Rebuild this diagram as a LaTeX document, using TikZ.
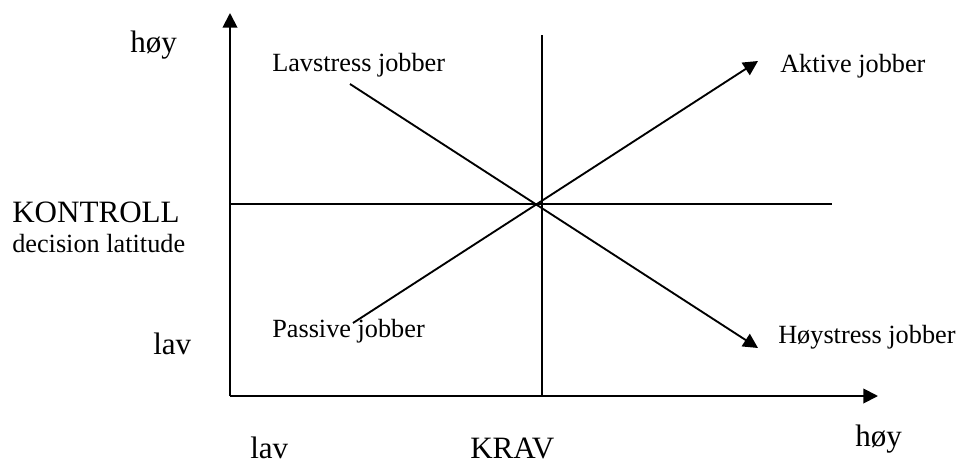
\documentclass[tikz,border=0pt]{standalone}
\usepackage{fontspec}
\setmainfont{Liberation Serif}
\usetikzlibrary{arrows.meta}
\begin{document}
\begin{tikzpicture}[x=0.75pt,y=-0.75pt,
  line/.style={line width=1.4pt},
  arr/.style={line width=1.4pt,-{Triangle[length=11pt,width=11pt]}},
  big/.style={font=\fontsize{23.3}{28}\selectfont,inner sep=0,anchor=base west},
  small/.style={font=\fontsize{19.7}{24}\selectfont,inner sep=0,anchor=base west}]
\useasboundingbox (0,0) rectangle (961,464);
% coordinates
\coordinate (O) at (230,396);
\coordinate (ytip) at (230,13);
\coordinate (xtip) at (878,396);
\coordinate (vtop) at (542,35);
\coordinate (vbot) at (542,396);
\coordinate (hleft) at (230,204);
\coordinate (hright) at (832,204);
\coordinate (pstart) at (353,323);
\coordinate (atip) at (758,61);
\coordinate (lstart) at (350,84);
\coordinate (htip) at (758,348);
% axes and lines
\draw[arr] (O) -- (ytip);
\draw[arr] (O) -- (xtip);
\draw[line] (vtop) -- (vbot);
\draw[line] (hleft) -- (hright);
\draw[arr] (pstart) -- (atip);
\draw[arr] (lstart) -- (htip);
% labels
\node[big] (hoyL) at (130,52) {høy};
\node[big] (kontroll) at (12,222) {KONTROLL};
\node[small] (decision) at (12,252) {decision latitude};
\node[big] (lavL) at (153,354) {lav};
\node[big] (lavB) at (250,458) {lav};
\node[big] (krav) at (470,458) {KRAV};
\node[big] (hoyB) at (855,446) {høy};
\node[small] (lavstress) at (272,71) {Lavstress jobber};
\node[small] (aktive) at (780,72) {Aktive jobber};
\node[small] (passive) at (272,337) {Passive jobber};
\node[small] (hoystress) at (778,343) {Høystress jobber};
\end{tikzpicture}
\end{document}
